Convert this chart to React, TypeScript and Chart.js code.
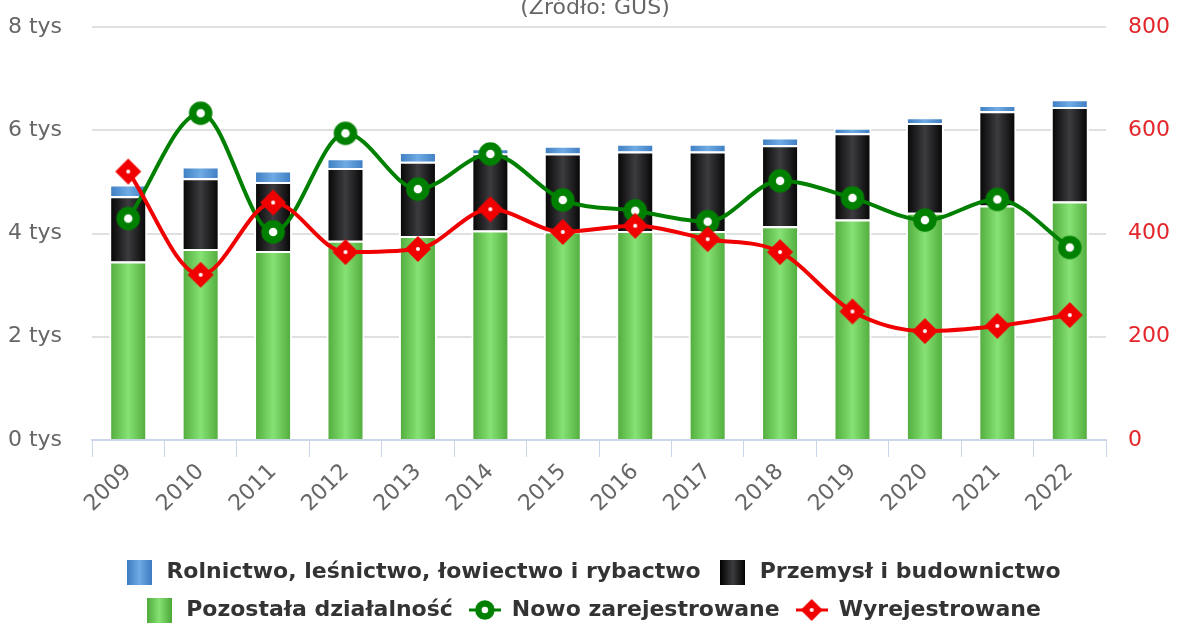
import React, { useEffect, useRef } from 'react';
import { Chart, registerables } from 'chart.js';

Chart.register(...registerables);

const FONT = '"DejaVu Sans", Verdana, sans-serif';
const SOURCE = '(Źródło: GUS)';

const years = ['2009', '2010', '2011', '2012', '2013', '2014', '2015', '2016', '2017', '2018', '2019', '2020', '2021', '2022'];
const rolnictwo = [230, 230, 220, 190, 190, 100, 150, 150, 150, 150, 110, 110, 120, 150];
const przemysl = [1260, 1370, 1340, 1410, 1440, 1490, 1510, 1540, 1540, 1570, 1670, 1740, 1830, 1830];
const pozostala = [3460, 3700, 3660, 3860, 3950, 4060, 4040, 4050, 4050, 4140, 4270, 4400, 4540, 4620];
const nowoZarejestrowane = [429, 633, 403, 594, 486, 554, 465, 444, 423, 502, 469, 426, 466, 373];
const wyrejestrowane = [520, 320, 460, 364, 370, 447, 403, 415, 389, 364, 249, 211, 221, 242];

const labelRolnictwo = 'Rolnictwo, leśnictwo, łowiectwo i rybactwo';
const labelPrzemysl = 'Przemysł i budownictwo';
const labelPozostala = 'Pozostała działalność';
const labelNowo = 'Nowo zarejestrowane';
const labelWyrej = 'Wyrejestrowane';

const GREEN_LINE = '#008000';
const RED_LINE = '#f00000';
const BAR_PCT = 0.525;

const palettes: Record<string, [string, string]> = {
  green: ['#4ea83a', '#86e274'],
  black: ['#020202', '#3c3c40'],
  blue: ['#3b7bc0', '#6fabe4'],
};

function makeCanvas(w: number, h: number, draw: (c: CanvasRenderingContext2D) => void) {
  const c = document.createElement('canvas');
  c.width = w;
  c.height = h;
  draw(c.getContext('2d') as CanvasRenderingContext2D);
  return c;
}

function ring(ctx: CanvasRenderingContext2D, cx: number, cy: number, r: number, bw: number) {
  ctx.beginPath();
  ctx.arc(cx, cy, r, 0, Math.PI * 2);
  ctx.fillStyle = '#ffffff';
  ctx.fill();
  ctx.lineWidth = bw;
  ctx.strokeStyle = GREEN_LINE;
  ctx.stroke();
}

function diamond(ctx: CanvasRenderingContext2D, cx: number, cy: number, r: number) {
  ctx.beginPath();
  ctx.moveTo(cx, cy - r);
  ctx.lineTo(cx + r, cy);
  ctx.lineTo(cx, cy + r);
  ctx.lineTo(cx - r, cy);
  ctx.closePath();
  ctx.fillStyle = RED_LINE;
  ctx.fill();
  ctx.beginPath();
  ctx.arc(cx, cy, 2, 0, Math.PI * 2);
  ctx.fillStyle = '#ffffff';
  ctx.fill();
}

function square(pal: [string, string]) {
  return makeCanvas(25, 25, (ctx) => {
    const g = ctx.createLinearGradient(0, 0, 25, 0);
    g.addColorStop(0, pal[0]);
    g.addColorStop(0.5, pal[1]);
    g.addColorStop(1, pal[0]);
    ctx.fillStyle = g;
    ctx.fillRect(0, 0, 25, 25);
  });
}

function barGradient(pal: [string, string]) {
  return (context: any) => {
    const chart = context.chart;
    const xs = chart.scales && chart.scales.x;
    if (!chart.chartArea || !xs || context.type !== 'data') return pal[1];
    const x = xs.getPixelForValue(context.dataIndex);
    const half = (xs.width / years.length) * BAR_PCT / 2;
    const g = chart.ctx.createLinearGradient(x - half, 0, x + half, 0);
    g.addColorStop(0, pal[0]);
    g.addColorStop(0.5, pal[1]);
    g.addColorStop(1, pal[0]);
    return g;
  };
}

const sourcePlugin = {
  id: 'sourceTitle',
  afterDraw(chart: any) {
    const { ctx, chartArea } = chart;
    ctx.save();
    ctx.font = `22px ${FONT}`;
    ctx.fillStyle = '#666666';
    ctx.textAlign = 'center';
    ctx.textBaseline = 'alphabetic';
    ctx.fillText(SOURCE, (chartArea.left + chartArea.right) / 2 - 4, 14);
    ctx.restore();
  },
};

const noVerticalOverflow = (s: any, width: number) => {
  s.width = width;
  s.paddingTop = 0;
  s.paddingBottom = 0;
};

export default function App() {
  const ref = useRef<HTMLCanvasElement>(null);

  useEffect(() => {
    if (!ref.current) return;
    const greenPoint = makeCanvas(26, 26, (c) => ring(c, 13, 13, 8, 7.5));
    const redPoint = makeCanvas(28, 28, (c) => diamond(c, 14, 14, 13));
    const legendIcons: any[] = [
      square(palettes.green),
      square(palettes.black),
      square(palettes.blue),
      makeCanvas(32, 22, (c) => {
        c.beginPath(); c.moveTo(0, 11); c.lineTo(32, 11); c.lineWidth = 3; c.strokeStyle = GREEN_LINE; c.stroke();
        ring(c, 16, 11, 6.5, 6.5);
      }),
      makeCanvas(32, 24, (c) => {
        c.beginPath(); c.moveTo(0, 12); c.lineTo(32, 12); c.lineWidth = 3; c.strokeStyle = RED_LINE; c.stroke();
        diamond(c, 16, 12, 11);
      }),
    ];

    const barCommon = {
      type: 'bar' as const,
      yAxisID: 'y',
      stack: 's',
      borderColor: '#ffffff',
      borderWidth: 2,
      borderSkipped: 'start' as const,
      barPercentage: BAR_PCT,
      categoryPercentage: 1,
      order: 2,
    };

    const chart = new Chart(ref.current, {
      type: 'bar',
      data: {
        labels: years,
        datasets: [
          { ...barCommon, label: labelPozostala, data: pozostala, backgroundColor: barGradient(palettes.green) },
          { ...barCommon, label: labelPrzemysl, data: przemysl, backgroundColor: barGradient(palettes.black) },
          { ...barCommon, label: labelRolnictwo, data: rolnictwo, backgroundColor: barGradient(palettes.blue) },
          {
            type: 'line', label: labelNowo, data: nowoZarejestrowane, yAxisID: 'y1',
            borderColor: GREEN_LINE, borderWidth: 4, cubicInterpolationMode: 'monotone',
            pointStyle: greenPoint as any, pointRadius: 10, pointHoverRadius: 10, order: 1, fill: false,
          },
          {
            type: 'line', label: labelWyrej, data: wyrejestrowane, yAxisID: 'y1',
            borderColor: RED_LINE, borderWidth: 4, cubicInterpolationMode: 'monotone',
            pointStyle: redPoint as any, pointRadius: 10, pointHoverRadius: 10, order: 0, fill: false,
          },
        ] as any,
      },
      options: {
        animation: false,
        responsive: true,
        maintainAspectRatio: false,
        layout: { padding: { top: 27, left: 0, right: 0, bottom: -7 } },
        scales: {
          x: {
            stacked: true,
            grid: { offset: true, drawOnChartArea: false, drawTicks: true, tickLength: 17, color: '#ccd6eb', lineWidth: 1 },
            border: { display: true, color: '#ccd6eb', width: 2 },
            ticks: { autoSkip: false, maxRotation: 45, minRotation: 45, color: '#666666', font: { family: FONT, size: 22 }, padding: 2 },
            afterFit: (s: any) => { s.height = 105; },
          },
          y: {
            stacked: true,
            position: 'left',
            min: 0,
            max: 8000,
            ticks: { stepSize: 2000, color: '#666666', font: { family: FONT, size: 22 }, padding: 30, callback: (v: any) => `${Number(v) / 1000} tys` },
            grid: { color: '#e0e0e0', lineWidth: 2, drawTicks: false },
            border: { display: false },
            afterFit: (s: any) => noVerticalOverflow(s, 92),
          },
          y1: {
            position: 'right',
            min: 0,
            max: 800,
            ticks: { stepSize: 200, color: '#e3262a', font: { family: FONT, size: 22 }, padding: 22 },
            grid: { drawOnChartArea: false, drawTicks: false },
            border: { display: false },
            afterFit: (s: any) => noVerticalOverflow(s, 78),
          },
        },
        plugins: {
          tooltip: { enabled: false },
          title: { display: false },
          legend: {
            position: 'bottom',
            labels: {
              usePointStyle: true,
              pointStyleWidth: 32,
              padding: 16,
              color: '#333333',
              font: { family: FONT, size: 22, weight: 'bold' },
              generateLabels: (ch: any) => [2, 1, 0, 3, 4].map((i) => ({
                text: ch.data.datasets[i].label,
                datasetIndex: i,
                hidden: !ch.isDatasetVisible(i),
                pointStyle: legendIcons[i],
                fontColor: '#333333',
                lineWidth: 0,
                strokeStyle: 'transparent',
                fillStyle: 'transparent',
                rotation: 0,
              })),
            },
          },
        },
      } as any,
      plugins: [sourcePlugin],
    });
    return () => chart.destroy();
  }, []);

  return (
    <div style={{ position: 'fixed', left: 0, top: 0, width: 1184, height: 624, background: '#ffffff' }}>
      <canvas ref={ref} />
    </div>
  );
}
